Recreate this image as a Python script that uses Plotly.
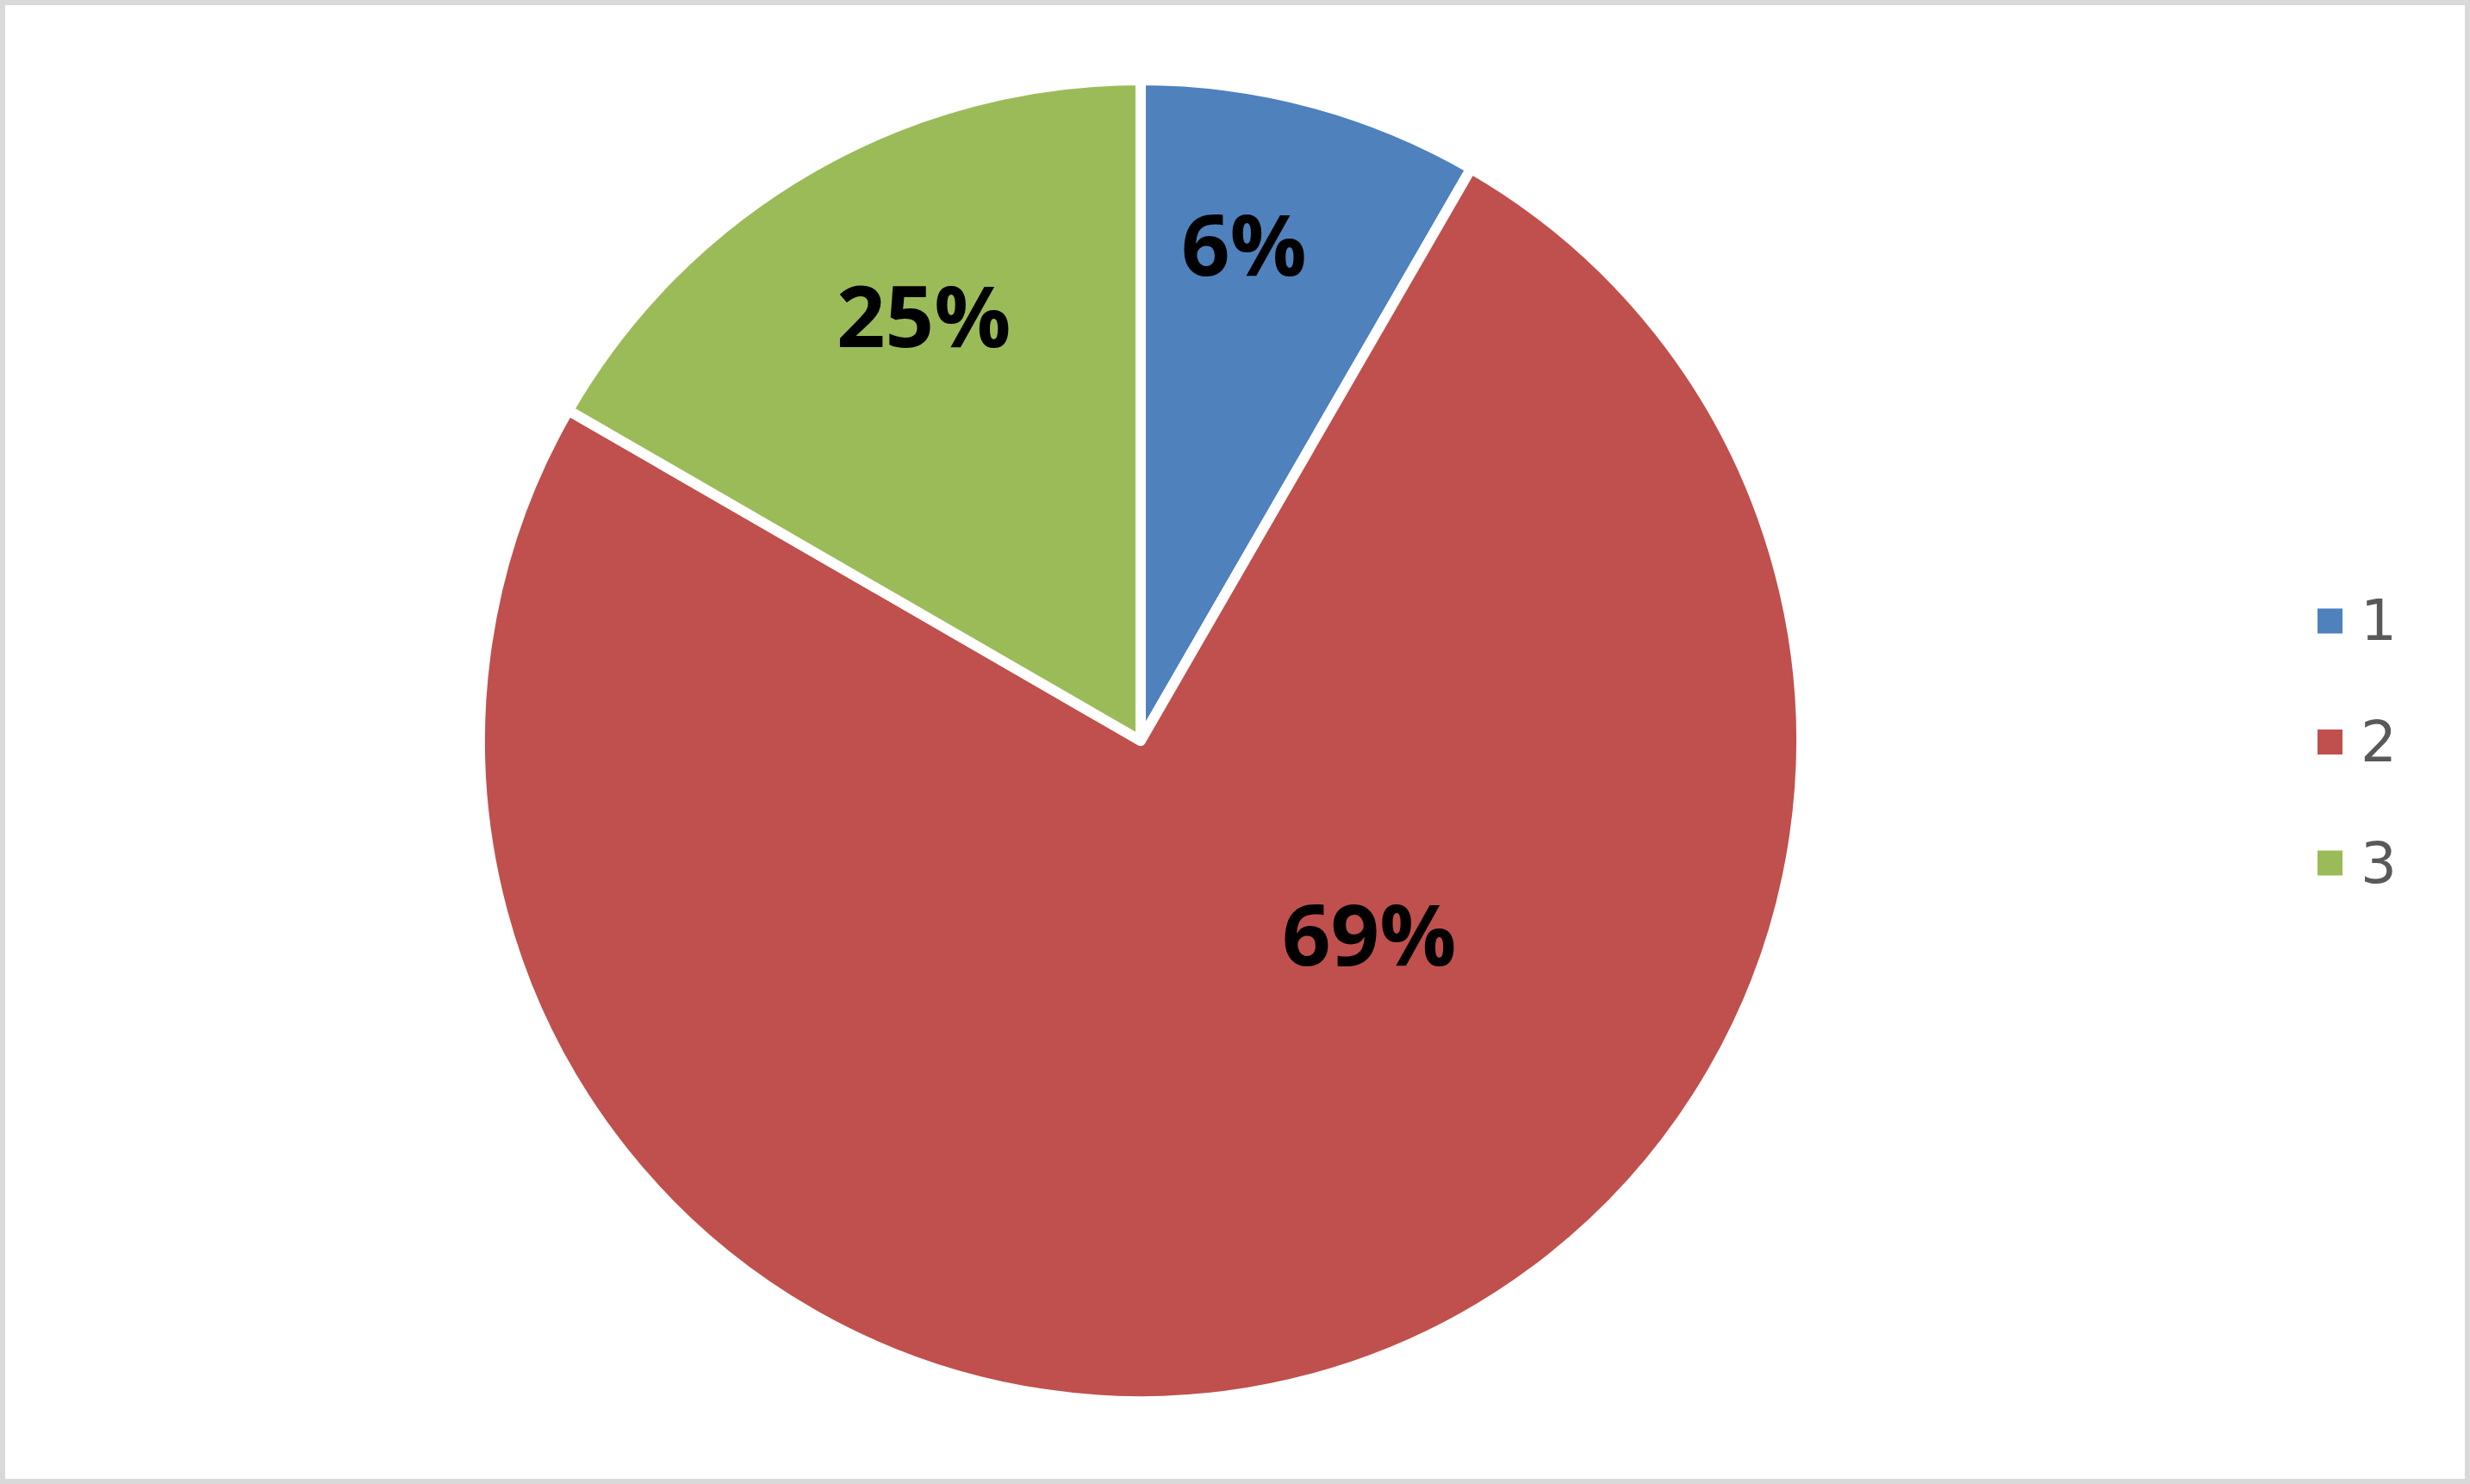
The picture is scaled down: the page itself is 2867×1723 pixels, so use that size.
import math
import plotly.graph_objects as go

W, H = 2867, 1723

categories = ["1", "2", "3"]
values = [1, 9, 2]
label_text = ["6%", "69%", "25%"]
colors = ["#4F81BD", "#C0504D", "#9BBB59"]

# label placement (style): angle clockwise from 12 o'clock, radius as fraction of pie radius
label_angle = [11.7, 130.0, -27.0]
label_rfrac = [0.778, 0.455, 0.731]

cx, cy, R = 1324, 860, 760
Rd = R + 7  # domain half-size (plotly insets the pie slightly)

fig = go.Figure()
fig.add_trace(go.Pie(
    labels=categories,
    values=values,
    textinfo="none",
    sort=False,
    direction="clockwise",
    rotation=0,
    marker=dict(colors=colors, line=dict(color="white", width=12)),
    domain=dict(x=[(cx - Rd) / W, (cx + Rd) / W], y=[(H - cy - Rd) / H, (H - cy + Rd) / H]),
    showlegend=False,
    hoverinfo="label+percent",
))

shapes = [dict(type="rect", xref="paper", yref="paper",
               x0=3 / W, x1=1 - 3 / W, y0=3 / H, y1=1 - 3 / H,
               line=dict(color="#D9D9D9", width=6), fillcolor="rgba(0,0,0,0)")]
annotations = []

for txt, ang, rf in zip(label_text, label_angle, label_rfrac):
    a = math.radians(ang)
    px = cx + rf * R * math.sin(a)
    py = cy - rf * R * math.cos(a)
    annotations.append(dict(xref="paper", yref="paper", x=px / W, y=(H - py) / H,
                            text=txt, showarrow=False, xanchor="center", yanchor="middle",
                            font=dict(family="Open Sans", size=99, color="black", weight="bold")))

leg_x0, leg_y0, leg_dy, sq = 2690, 721, 140.5, 29
for i, (cat, col) in enumerate(zip(categories, colors)):
    yc = leg_y0 + i * leg_dy
    shapes.append(dict(type="rect", xref="paper", yref="paper",
                       x0=leg_x0 / W, x1=(leg_x0 + sq) / W,
                       y0=(H - yc - sq / 2) / H, y1=(H - yc + sq / 2) / H,
                       line=dict(width=0), fillcolor=col))
    annotations.append(dict(xref="paper", yref="paper", x=2738 / W, y=(H - yc) / H,
                            text=cat, showarrow=False, xanchor="left", yanchor="middle",
                            font=dict(family="DejaVu Sans", size=66, color="#595959")))

fig.update_layout(
    width=W, height=H,
    margin=dict(l=0, r=0, t=0, b=0),
    paper_bgcolor="white",
    plot_bgcolor="white",
    shapes=shapes,
    annotations=annotations,
)

fig.write_html("out.html", config={"displayModeBar": False},
               post_script="document.body.style.margin='0';document.body.style.overflow='hidden';")
